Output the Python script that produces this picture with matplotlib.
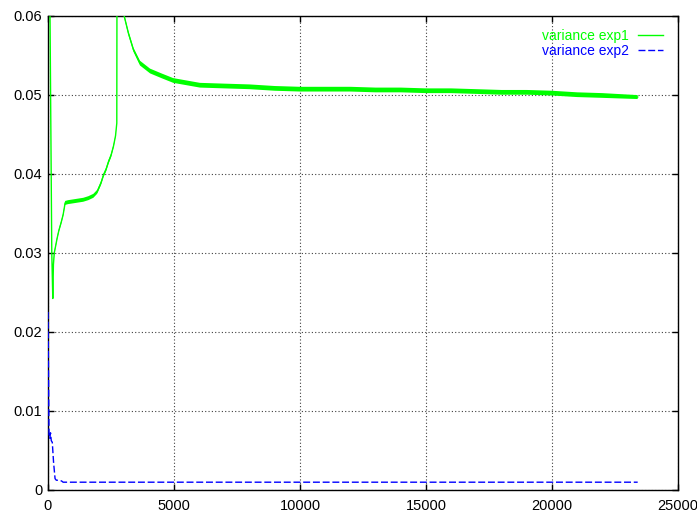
import matplotlib
matplotlib.use('Agg')
import matplotlib.pyplot as plt
import numpy as np
from matplotlib.ticker import FuncFormatter

# values
green_x = [0, 80, 150, 190, 215, 250, 300, 360, 430, 520, 600, 680, 800, 1000, 1200,
           1400, 1600, 1800, 1950, 2100, 2200, 2300, 2400, 2500, 2600, 2680, 2730,
           2760, 2950, 3020, 3190, 3390, 3650, 4050, 4500, 4970, 6030, 7000, 8000,
           9000, 10000, 11000, 12000, 13000, 14000, 15000, 16000, 17000, 18000,
           19000, 20000, 21000, 22000, 23400]
green_y = [0.15, 0.060, 0.030, 0.0242, 0.0285, 0.0300, 0.0308, 0.0318, 0.0328, 0.0338,
           0.0348, 0.0363, 0.0364, 0.0365, 0.0366, 0.0367, 0.0369, 0.0372, 0.0377,
           0.0388, 0.0398, 0.0405, 0.0415, 0.0423, 0.0435, 0.0448, 0.0464,
           0.12, 0.065, 0.0600, 0.0578, 0.0557, 0.0540, 0.0530, 0.0524, 0.0518,
           0.0512, 0.0511, 0.0510, 0.0508, 0.0507, 0.0507, 0.0507, 0.0506, 0.0506,
           0.0505, 0.0505, 0.0504, 0.0503, 0.0503, 0.0502, 0.0500, 0.0499, 0.0497]
# noise half-width of the green band
green_spread = [0, 0, 0, 0.0001, 0.0002, 0.0002, 0.0002, 0.0002, 0.0002, 0.0002,
                0.0002, 0.00025, 0.00025, 0.00025, 0.00025, 0.00025, 0.00025, 0.00025,
                0.00025, 0.00025, 0.00025, 0.00025, 0.00025, 0.00025, 0.0002, 0.0001, 0,
                0, 0, 0.0002, 0.00025, 0.00025, 0.0003, 0.0003, 0.0003, 0.0003,
                0.0003, 0.0003, 0.0003, 0.0003, 0.0003, 0.0003, 0.0003, 0.0003, 0.0003,
                0.0003, 0.0003, 0.0003, 0.0003, 0.0003, 0.0003, 0.0003, 0.0003, 0.00025]

blue_x = [0, 40, 70, 100, 130, 170, 220, 280, 330, 450, 540, 600, 23400]
blue_y = [0.0225, 0.0070, 0.0065, 0.0072, 0.0062, 0.0060, 0.0035, 0.0014, 0.0012,
          0.0012, 0.0011, 0.00095, 0.00095]

x_ticks = [0, 5000, 10000, 15000, 20000, 25000]
y_ticks = [0, 0.01, 0.02, 0.03, 0.04, 0.05, 0.06]

plt.rcParams['font.family'] = ['Liberation Sans', 'DejaVu Sans']

fig = plt.figure(figsize=(6.97, 5.14), dpi=100)
ax = fig.add_axes([48 / 697, 24.3 / 514, 630 / 697, 474 / 514])

gx = np.array(green_x)
gy = np.array(green_y)
gs = np.array(green_spread)
ax.fill_between(gx, gy - gs, gy + gs, color='#00ff00', lw=0, zorder=3)
ax.plot(gx, gy, color='#00ff00', lw=1, label='variance exp1', zorder=3)
ax.plot(blue_x, blue_y, color='#0000ff', lw=1, dashes=(5, 2), label='variance exp2',
        zorder=3)

ax.set_xlim(0, 25000)
ax.set_ylim(0, 0.06)
ax.set_xticks(x_ticks)
ax.set_yticks(y_ticks)
ax.yaxis.set_major_formatter(FuncFormatter(lambda v, p: '%g' % round(v, 4)))
ax.tick_params(direction='in', length=4, width=1, top=True, right=True, labelsize=10.5)
ax.tick_params(axis='x', pad=7)
ax.tick_params(axis='y', pad=4)
ax.grid(True, color='0.25', lw=0.8, linestyle=(0, (1, 2)))
for s in ax.spines.values():
    s.set_linewidth(1)

leg = ax.legend(loc='upper right', bbox_to_anchor=(0.976, 0.972), frameon=False,
                markerfirst=False, labelcolor='linecolor', fontsize=10,
                handlelength=1.8, handletextpad=0.65, labelspacing=0.05, borderpad=0,
                borderaxespad=0)

fig.savefig('out.png', dpi=100)
